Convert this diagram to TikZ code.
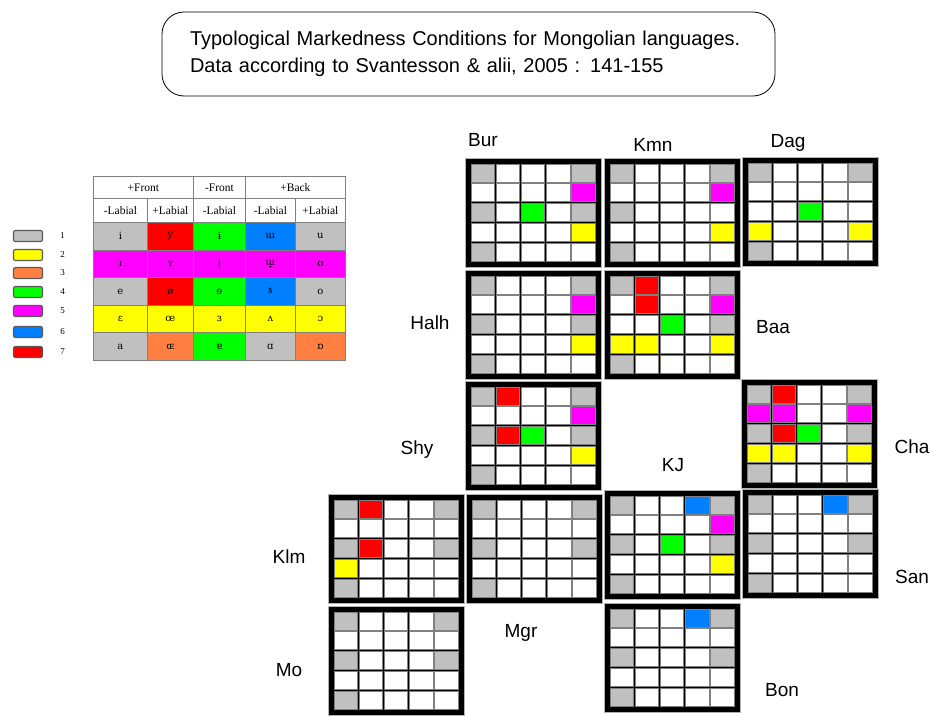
\documentclass[tikz,border=0pt]{standalone}
\usepackage{fontspec}
\setmainfont{Liberation Sans}
\newfontfamily\tabfont{Liberation Serif}
\newfontfamily\ipafont{DejaVu Serif}
\usetikzlibrary{positioning}

\definecolor{cg}{HTML}{C0C0C0}
\definecolor{cw}{HTML}{FFFFFF}
\definecolor{cy}{HTML}{FFFF00}
\definecolor{co}{HTML}{FF8040}
\definecolor{cn}{HTML}{00FF00}
\definecolor{cm}{HTML}{FF00FF}
\definecolor{cb}{HTML}{0080FF}
\definecolor{cr}{HTML}{FF0000}
\definecolor{cellrim}{HTML}{808080}

% one 5x5 markedness grid: name, top left corner, 25 cell colours
\newcommand{\markgrid}[3]{%
  \node[gridframe] (#1) at (#2) {};
  \foreach \clr [count=\i from 0] in {#3} {
    \pgfmathtruncatemacro\row{div(\i,5)}
    \pgfmathtruncatemacro\col{mod(\i,5)}
    \filldraw[fill=\clr, draw=cellrim, line width=0.9pt]
      ([shift={(6+\col*25.2, 6+\row*19.8)}]#1.north west) rectangle +(23.4,18);
  }
}

\begin{document}
\begin{tikzpicture}[x=1pt, y=-1pt,
  gridframe/.style={rectangle, fill=black, draw=gray!60, line width=0.7pt,
    minimum width=136pt, minimum height=109pt, inner sep=0pt, anchor=north west},
  lang/.style={font=\fontsize{19}{19}\selectfont, inner sep=0pt},
  hcell/.style={rectangle, draw=cellrim, line width=0.8pt, inner sep=0pt,
    anchor=north west, font=\tabfont\fontsize{11.5}{11.5}\selectfont},
  vcell/.style={rectangle, draw=cellrim, line width=0.8pt, inner sep=0pt,
    anchor=north west, font=\ipafont\fontsize{10}{10}\selectfont},
  swatch/.style={rectangle, rounded corners=2pt, draw=gray!70!black, line width=1.2pt,
    minimum width=29pt, minimum height=11pt, inner sep=0pt},
  swnum/.style={font=\tabfont\fontsize{9}{9}\selectfont, inner sep=0pt}]
  \useasboundingbox (0,0) rectangle (933,715);

  % title
  \node[draw, line width=0.8pt, rounded corners=22pt, text width=557pt, align=left,
    inner xsep=28pt, minimum height=84pt, font=\fontsize{20}{27}\selectfont]
    (title) at (468.5,54)
    {Typological Markedness Conditions for Mongolian languages.\\
     Data according to Svantesson \& alii, 2005 : 141-155};

  % legend
  \foreach \clr/\n/\y in {cg/1/236, cy/2/255, co/3/273, cn/4/292, cm/5/311, cb/6/332, cr/7/352} {
    \node[swatch, fill=\clr] (sw\n) at (28,\y) {};
    \node[swnum, right=17pt of sw\n] (nm\n) {\n};
  }

  % vowel table
  \node[hcell, minimum width=100pt, minimum height=22pt] (hfront) at (93,176) {+Front};
  \node[hcell, minimum width=52pt, minimum height=22pt] (hcentr) at (193,176) {-Front};
  \node[hcell, minimum width=100pt, minimum height=22pt] (hback) at (245,176) {+Back};
  \foreach \lab [count=\k from 0] in {-Labial,+Labial,-Labial,-Labial,+Labial} {
    \pgfmathsetmacro\cx{{93,147,193,245,295}[\k]}
    \pgfmathsetmacro\cw{{54,46,52,50,50}[\k]}
    \node[hcell, minimum width=\cw pt, minimum height=24pt] (lab\k) at (\cx,198) {\lab};
  }
  \foreach \rowcols [count=\r from 0] in {
      {cg/i,cr/y,cn/ɨ,cb/ɯ,cg/u},
      {cm/ɪ,cm/ʏ,cm/ɨ̞,cm/ɯ̞,cm/ʊ},
      {cg/e,cr/ø,cn/ɘ,cb/ɤ,cg/o},
      {cy/ɛ,cy/œ,cy/ɜ,cy/ʌ,cy/ɔ},
      {cg/a,co/ɶ,cn/ɐ,cg/ɑ,co/ɒ}} {
    \foreach \clr/\v [count=\k from 0] in \rowcols {
      \pgfmathsetmacro\cx{{93,147,193,245,295}[\k]}
      \pgfmathsetmacro\cw{{54,46,52,50,50}[\k]}
      \node[vcell, fill=\clr, minimum width=\cw pt, minimum height=27.6pt]
        (v\r\k) at (\cx, 222+\r*27.6) {\v};
    }
  }

  % grids
  \markgrid{gBur}{465,158}{cg,cw,cw,cw,cg, cw,cw,cw,cw,cm, cg,cw,cn,cw,cg, cw,cw,cw,cw,cy, cg,cw,cw,cw,cw}
  \markgrid{gKmn}{604,158}{cg,cw,cw,cw,cg, cw,cw,cw,cw,cm, cg,cw,cw,cw,cw, cw,cw,cw,cw,cy, cg,cw,cw,cw,cw}
  \markgrid{gDag}{742,157}{cg,cw,cw,cw,cg, cw,cw,cw,cw,cw, cw,cw,cn,cw,cw, cy,cw,cw,cw,cy, cg,cw,cw,cw,cw}
  \markgrid{gHalh}{465,270}{cg,cw,cw,cw,cg, cw,cw,cw,cw,cm, cg,cw,cw,cw,cg, cw,cw,cw,cw,cy, cg,cw,cw,cw,cw}
  \markgrid{gBaa}{604,270}{cg,cr,cw,cw,cg, cw,cr,cw,cw,cm, cw,cw,cn,cw,cg, cy,cy,cw,cw,cy, cg,cw,cw,cw,cw}
  \markgrid{gShy}{465,381}{cg,cr,cw,cw,cg, cw,cw,cw,cw,cm, cg,cr,cn,cw,cg, cw,cw,cw,cw,cy, cg,cw,cw,cw,cw}
  \markgrid{gCha}{741,379}{cg,cr,cw,cw,cg, cm,cm,cw,cw,cm, cg,cr,cn,cw,cg, cy,cy,cw,cw,cy, cg,cw,cw,cw,cw}
  \markgrid{gKlm}{328,494}{cg,cr,cw,cw,cg, cw,cw,cw,cw,cw, cg,cr,cw,cw,cg, cy,cw,cw,cw,cw, cg,cw,cw,cw,cw}
  \markgrid{gMgr}{466,494}{cg,cw,cw,cw,cg, cw,cw,cw,cw,cw, cg,cw,cw,cw,cg, cw,cw,cw,cw,cw, cg,cw,cw,cw,cw}
  \markgrid{gKJ}{604,490}{cg,cw,cw,cb,cg, cw,cw,cw,cw,cm, cg,cw,cn,cw,cg, cw,cw,cw,cw,cy, cg,cw,cw,cw,cw}
  \markgrid{gSan}{742,489}{cg,cw,cw,cb,cg, cw,cw,cw,cw,cw, cg,cw,cw,cw,cg, cw,cw,cw,cw,cw, cg,cw,cw,cw,cw}
  \markgrid{gMo}{328,606}{cg,cw,cw,cw,cg, cw,cw,cw,cw,cw, cg,cw,cw,cw,cg, cw,cw,cw,cw,cw, cg,cw,cw,cw,cw}
  \markgrid{gBon}{604,603}{cg,cw,cw,cb,cg, cw,cw,cw,cw,cw, cg,cw,cw,cw,cg, cw,cw,cw,cw,cw, cg,cw,cw,cw,cw}

  % language labels
  \node[lang] (lBur) at (483,140) {Bur};
  \node[lang] (lKmn) at (653,145) {Kmn};
  \node[lang] (lDag) at (788,143) {Dag};
  \node[lang] (lHalh) at (430,323) {Halh};
  \node[lang] (lBaa) at (773,327) {Baa};
  \node[lang] (lShy) at (417,450) {Shy};
  \node[lang] (lCha) at (912,447) {Cha};
  \node[lang] (lKJ) at (673,465) {KJ};
  \node[lang] (lKlm) at (289,557) {Klm};
  \node[lang] (lSan) at (912,577) {San};
  \node[lang] (lMgr) at (521,633) {Mgr};
  \node[lang] (lMo) at (289,670) {Mo};
  \node[lang] (lBon) at (782,690) {Bon};
\end{tikzpicture}
\end{document}
